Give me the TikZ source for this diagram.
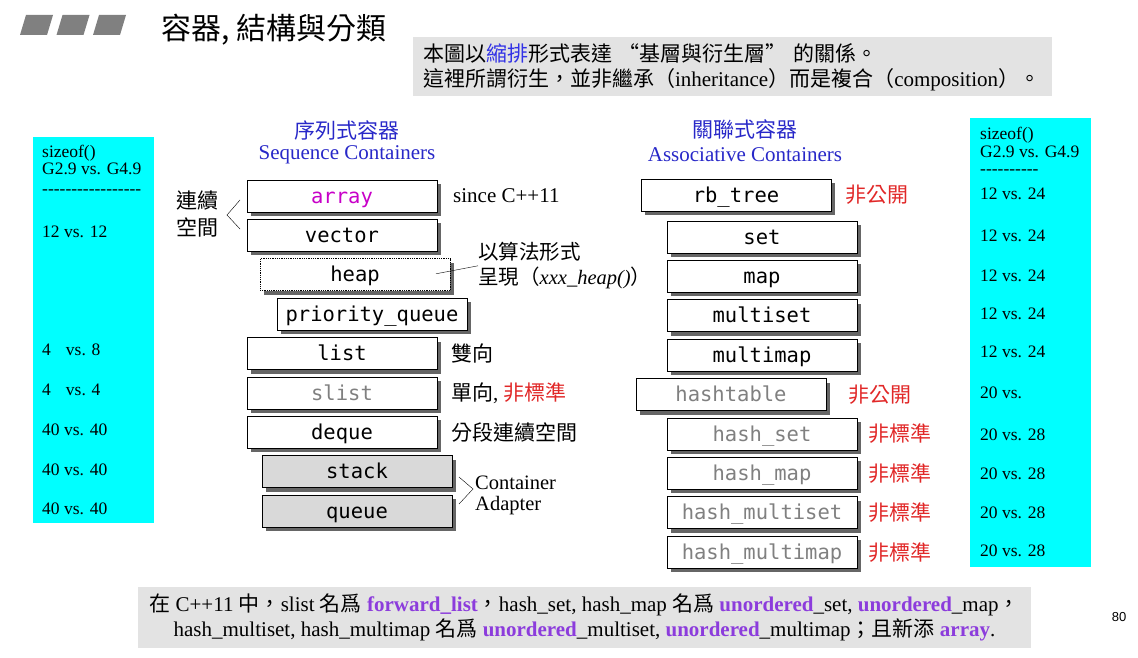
\documentclass[tikz,border=0pt]{standalone}
\usepackage{fontspec}
\setmainfont{Liberation Serif}
\newfontfamily\zh{Noto Sans CJK TC}
\newfontfamily\boxfont{DejaVu Sans Mono}
\newfontfamily\pagefont{Liberation Sans}
\usetikzlibrary{positioning, shadows}
\definecolor{boxcyan}{RGB}{0,255,255}
\definecolor{headblue}{RGB}{40,40,200}
\definecolor{zhblue}{RGB}{50,50,230}
\definecolor{lblred}{RGB}{225,40,40}
\definecolor{arraymag}{RGB}{200,0,200}
\definecolor{purp}{RGB}{140,60,220}
\definecolor{titlegray}{RGB}{128,128,128}
\newcommand{\pur}[1]{{\color{purp}\bfseries #1}}
\newcommand{\dashrow}[1]{\foreach \k in {1,...,#1}{-}}

\begin{document}
\begin{tikzpicture}[x=1pt, y=-1pt,
    node distance=7.4pt,
    box/.style={rectangle, draw, fill=white, line width=0.8pt, minimum width=190pt,
                minimum height=32pt, inner sep=0pt, outer sep=0pt,
                text height=15pt, text depth=1pt,
                font={\boxfont\fontsize{20.5}{20.5}\selectfont},
                drop shadow={shadow xshift=4pt, shadow yshift=-4pt, fill=black!60, opacity=1}},
    adapter/.style={box, fill=black!15},
    greytxt/.style={text=black!50},
    zhlbl/.style={inner sep=0pt, font={\zh\fontsize{21}{27}\selectfont}},
    enlbl/.style={inner sep=0pt, font={\fontsize{20.5}{21}\selectfont}},
    cyanbox/.style={rectangle, fill=boxcyan, minimum width=121pt, inner sep=0pt},
    sizetxt/.style={anchor=west, inner sep=0pt, text height=10pt, text depth=1pt,
                    font={\fontsize{17.5}{19}\selectfont}},
    head/.style={text=headblue, inner sep=0pt},
    note/.style={fill=black!11, inner sep=0pt, font={\fontsize{21}{24.5}\selectfont}}
]
\useasboundingbox (0,0) rectangle (1138,658);

% title
\foreach \i in {0,1,2}
  \fill[titlegray] ({20+36.5*\i},35) -- ++(27,0) -- ++(6,-20) -- ++(-27,0) -- cycle;
\node[inner sep=0pt, font={\zh\fontsize{30}{30}\selectfont}] (title) at (274,30) {容器, 結構與分類};

\node[note, minimum width=639pt, minimum height=59pt, text width=619pt, align=left] (topnote) at (732.5,67)
  {{\zh 本圖以{\color{zhblue}縮排}形式表達 “基層與衍生層” 的關係。}\\
   {\zh 這裡所謂衍生，並非繼承（}inheritance{\zh ）而是複合（}composition{\zh ）。}};

% sizeof columns
\node[cyanbox, minimum height=386pt] (lsize) at (93.5,330) {};
\node[cyanbox, minimum height=449pt] (rsize) at (1030.5,342.5) {};
\foreach \t/\y [count=\i] in {sizeof()/153, G2.9 vs. G4.9/170, \dashrow{17}/190,
    12 vs. 12/233, 4\hspace{15pt}vs. 8/351, 4\hspace{15pt}vs. 4/391, 40 vs. 40/431, 40 vs. 40/471, 40 vs. 40/510}
  \node[sizetxt] (lv\i) at (42,\y) {\t};
\foreach \t/\y [count=\i] in {sizeof()/135, G2.9 vs. G4.9/153, \dashrow{10}/170,
    12 vs. 24/195, 12 vs. 24/237, 12 vs. 24/277, 12 vs. 24/315, 12 vs. 24/353,
    20 vs./394, 20 vs. 28/436, 20 vs. 28/475, 20 vs. 28/514, 20 vs. 28/552}
  \node[sizetxt] (rv\i) at (980,\y) {\t};

% sequence containers
\node[head, font={\zh\fontsize{21}{21}\selectfont}] (seqzh) at (347,130) {序列式容器};
\node[head, font={\fontsize{21}{21}\selectfont}] (seqen) at (347,155) {Sequence Containers};

\node[box] (array) at (342,196) {\color{arraymag}array};
\node[box, below=of array] (vector) {vector};
\node[box, below=of vector, xshift=13pt, densely dotted] (heap) {heap};
\node[box, below=of heap, xshift=17pt] (pqueue) {priority\_queue};
\node[box, below=of pqueue, xshift=-30pt] (list) {list};
\node[box, below=of list, greytxt] (slist) {slist};
\node[box, below=of slist] (deque) {deque};
\node[adapter, below=of deque, xshift=15pt] (stack) {stack};
\node[adapter, below=of stack] (queue) {queue};

\node[zhlbl, align=center] (contig) at (197,214) {連續\\空間};
\draw[thin] (240,200) -- (227,215) -- (240,229);
\node[enlbl, right=16pt of array, font={\fontsize{21}{21}\selectfont}] (since) {since C++11};
\node[zhlbl, align=left, right=28pt of heap, yshift=9pt, font={\zh\fontsize{20.5}{25}\selectfont}] (heapnote)
  {以算法形式\\呈現（{\rmfamily\itshape xxx\_heap()}）};
\draw[thin] ([xshift=-14pt,yshift=1pt]heap.east) -- (heapnote.west);
\node[zhlbl, right=14pt of list] (bidir) {雙向};
\node[zhlbl, right=14pt of slist] (unidir) {單向{\rmfamily ,} {\color{lblred}非標準}};
\node[zhlbl, right=14pt of deque] (segment) {分段連續空間};
\node[enlbl, align=left, anchor=west] (adapt) at (475,495) {Container\\Adapter};
\draw[thin] (459,477) -- (473,489) -- (459,504);

% associative containers
\node[head, font={\zh\fontsize{21}{21}\selectfont}] (asszh) at (745,130) {關聯式容器};
\node[head, font={\fontsize{21}{21}\selectfont}] (assen) at (745,155) {Associative Containers};

\node[box] (rbtree) at (736,195) {rb\_tree};
\node[box, below=10pt of rbtree, xshift=26pt] (set) {set};
\node[box, below=of set] (map) {map};
\node[box, below=of map] (mset) {multiset};
\node[box, below=of mset] (mmap) {multimap};
\node[box, below=of mmap, xshift=-31pt, greytxt] (htable) {hashtable};
\node[box, below=of htable, xshift=31pt, greytxt] (hset) {hash\_set};
\node[box, below=of hset, greytxt] (hmap) {hash\_map};
\node[box, below=of hmap, greytxt] (hmset) {hash\_multiset};
\node[box, below=of hmset, greytxt] (hmmap) {hash\_multimap};

\node[zhlbl, text=lblred, right=14pt of rbtree] (priv1) {非公開};
\node[zhlbl, text=lblred, right=22pt of htable] (priv2) {非公開};
\node[zhlbl, text=lblred, right=11pt of hset] (nstd1) {非標準};
\node[zhlbl, text=lblred, right=11pt of hmap] (nstd2) {非標準};
\node[zhlbl, text=lblred, right=11pt of hmset] (nstd3) {非標準};
\node[zhlbl, text=lblred, right=11pt of hmmap] (nstd4) {非標準};

% C++11 note
\node[note, minimum width=893pt, minimum height=61pt, align=center] (c11note) at (584.5,617.5)
  {{\zh 在} C++11 {\zh 中，}slist {\zh 名爲} \pur{forward\_list}{\zh ，}hash\_set, hash\_map {\zh 名爲} \pur{unordered}\_set, \pur{unordered}\_map{\zh ，}\\
   hash\_multiset, hash\_multimap {\zh 名爲} \pur{unordered}\_multiset, \pur{unordered}\_multimap{\zh ；且新添} \pur{array}.};

\node[inner sep=0pt, font={\pagefont\fontsize{13}{13}\selectfont}] (pagenum) at (1119,617) {80};
\end{tikzpicture}
\end{document}
